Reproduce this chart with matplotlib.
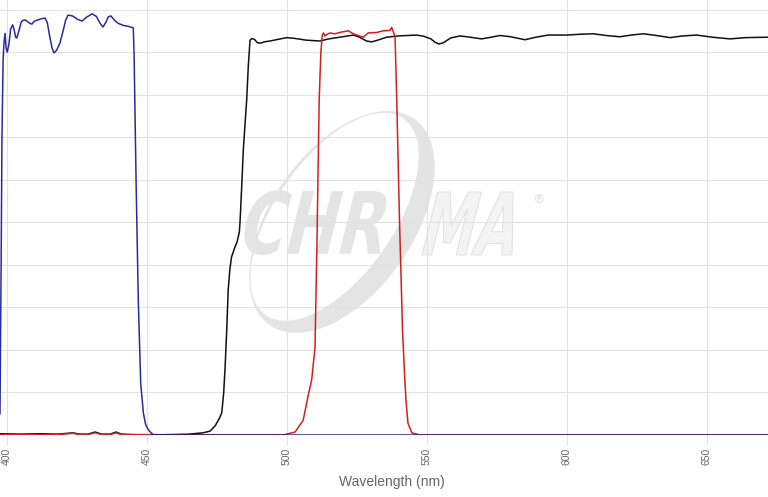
import matplotlib
matplotlib.use('Agg')
import matplotlib.pyplot as plt
from matplotlib.patches import Ellipse, PathPatch
from matplotlib.textpath import TextPath
from matplotlib.font_manager import FontProperties
from matplotlib.transforms import Affine2D

# blue filter (nm, % transmission)
blue_nm = [397.6, 398.0, 398.3, 398.7, 399.0, 399.4, 399.8, 400.2, 400.8, 401.4, 402.1, 402.6,
           403.2, 403.6, 404.3, 405.2, 405.9, 406.8, 407.6, 408.4, 409.0, 409.8, 410.8, 412.2,
           413.7, 414.5, 415.3, 416.2, 416.9, 417.8, 419.0, 420.3, 421.0, 421.9, 423.5, 425.3,
           426.9, 428.5, 430.5, 432.0, 433.4, 434.4, 435.5, 436.3, 437.2, 438.5, 439.7, 441.5,
           443.0, 444.3, 445.2, 445.5, 446.2, 447.0, 447.85, 448.8, 449.6, 450.6, 452.2, 460.0,
           671.9]
blue_t = [5, 40, 70, 88, 92.2, 94.5, 91, 90.1, 92, 95.5, 96.5, 95.5,
          93.6, 93.4, 95, 97.2, 97.6, 97.6, 97.2, 96.8, 96.7, 97.3, 97.6, 97.9,
          98.1, 97, 94, 91, 89.9, 90.5, 92.2, 95.5, 97.5, 98.8, 98.6, 97.8,
          97.4, 98.3, 99.1, 98.5, 96.8, 96.0, 97.2, 98.4, 98.6, 97.6, 96.9, 96.4,
          96.2, 96.0, 95.8, 89.4, 59.8, 31.5, 12.2, 5.2, 2.5, 1.2, 0.1, 0,
          0]

# black filter
black_nm = [397.6, 405, 412, 418, 423.7, 426, 429, 431.5, 434, 437, 439, 441, 445, 455, 465,
            470, 472.6, 474.5, 476, 476.8, 477.5, 478, 478.6, 479.1, 479.7, 480.3, 481.5, 482.3,
            483.1, 483.4, 483.7, 484.1, 484.5, 485.1, 485.7, 486.3, 486.9, 487.7, 488.6, 489.5,
            490.7, 492, 494, 497, 500, 503, 507, 511.9, 515, 519, 523.8, 526, 528.5, 530.4,
            532.5, 535.7, 540, 546.4, 549, 551.5, 553, 554.4, 556, 558.5, 561.9, 565.5, 569.6,
            573, 576.2, 580, 585.1, 589, 593.4, 600, 605, 609.5, 614, 619, 623, 627.4, 632,
            636.9, 641.5, 646.4, 652, 658.3, 664, 671.9]
black_t = [0.3, 0.2, 0.3, 0.2, 0.5, 0.2, 0.2, 0.7, 0.2, 0.2, 0.7, 0.2, 0.1, 0.05, 0.2,
           0.5, 0.9, 2.2, 4, 5.2, 10, 16, 25, 34.1, 39, 41.9, 44.2, 45.5,
           47.8, 51, 55.3, 61, 67.1, 73, 78.8, 87, 92.9, 93.3, 93.0, 92.3,
           92.2, 92.5, 92.7, 93.1, 93.5, 93.3, 92.9, 92.7, 93.2, 93.6, 94.1, 93.6, 92.7, 92.5,
           92.9, 93.6, 93.9, 94.1, 93.8, 93.2, 92.4, 92.0, 92.3, 93.4, 93.9, 93.6, 93.2,
           93.6, 94.0, 93.7, 93.0, 93.6, 94.1, 94.1, 94.3, 94.4, 94.0, 93.7, 94.1, 94.4, 94.0,
           93.5, 93.9, 94.1, 93.6, 93.2, 93.5, 93.6]

# red filter
red_nm = [397.6, 418, 423.7, 426, 429, 431.5, 434, 437, 439, 441, 445, 470, 498.7, 503.0,
          505.9, 507.7, 508.9, 510.1, 510.8, 511.6, 512.2, 512.7, 513.1, 513.7, 514.5, 515.5,
          517.2, 519.5, 522, 523.8, 525.5, 527.3, 529.1, 532.1, 534.5, 536.9, 537.5, 538.7,
          539.3, 540.3, 541.4, 542.2, 542.6, 543.3, 544.7, 547.6, 671.9]
red_t = [0.1, 0.1, 0.4, 0.1, 0.1, 0.5, 0.1, 0.1, 0.5, 0.1, 0.05, 0, 0, 0.7,
         3.5, 9.4, 12.9, 20.5, 45, 78.8, 90, 94, 94.6, 93.9, 94.3, 94.6,
         94.4, 94.8, 95.1, 94.4, 94, 93.6, 94.6, 94.7, 95.1, 95.2, 95.9, 93.7,
         78.8, 50, 24, 12.9, 8.2, 2.8, 0.5, 0, 0]

x_ticks = [400, 450, 500, 550, 600, 650]

W, H = 768, 497
fig = plt.figure(figsize=(W / 100, H / 100), dpi=100)
ax = fig.add_axes([0, 62 / H, 1, 1 - 62 / H])
ax.set_xlim(397.6, 671.9)
ax.set_ylim(0, 102.35)

grid_c = '#e2e2e2'
ax.set_xticks(x_ticks)
ax.set_yticks(range(10, 101, 10))
ax.grid(True, color=grid_c, linewidth=0.8)
ax.tick_params(axis='x', length=7, width=0.8, color=grid_c, labelsize=7.5,
               labelcolor='#666666', labelrotation=90, pad=2)
ax.tick_params(axis='y', length=0, labelleft=False)
for lab in ax.get_xticklabels():
    lab.set_family('Liberation Sans')
for s in ax.spines.values():
    s.set_visible(False)

# watermark, in image pixels (y up)
px = Affine2D().scale(1 / W, 1 / H) + fig.transFigure
wm = '#e4e4e4'
ax.add_patch(Ellipse((342, H - 222), 252, 142, angle=55, facecolor=wm, edgecolor='none',
                     transform=px, clip_on=False, zorder=1))
ax.add_patch(Ellipse((342 - 7.4, H - 222 + 5.2), 240, 118, angle=55, facecolor='white',
                     edgecolor='none', transform=px, clip_on=False, zorder=1.05))

fp = FontProperties(family='DejaVu Sans', weight='bold')

def logo_text(s, x0, x1, base, top, face, edge):
    tp = TextPath((0, 0), s, size=1, prop=fp)
    ext = tp.get_extents()
    sx = (x1 - x0) / ext.width
    sy = (base - top) / ext.height
    tr = Affine2D().translate(-ext.x0, -ext.y0).scale(sx, sy).skew_deg(14, 0) \
        .translate(x0 - 8, H - base) + px
    ax.add_patch(PathPatch(tp, facecolor=face, edgecolor=edge, linewidth=0.6,
                           transform=tr, clip_on=False, zorder=1.1))

logo_text('CHR', 246, 388, 255, 190, wm, 'none')
logo_text('MA', 430, 520, 255, 192, '#f3f3f3', '#dcdcdc')
ax.text(538, H - 200, '\u00ae', transform=px, fontsize=9, color='#dddddd',
        ha='center', va='center', zorder=1.1)

ax.plot(black_nm, black_t, color='#111111', linewidth=1.1, zorder=2)
ax.plot(red_nm, red_t, color='#d21f1f', linewidth=1.1, zorder=2.1)
ax.plot(blue_nm, blue_t, color='#14148e', linewidth=1.1, alpha=0.9, zorder=2.2)

fig.text(392 / W, 1 - 482 / H, 'Wavelength (nm)', ha='center', va='center',
         fontsize=10, color='#666666', family='Liberation Sans')

fig.savefig('out.png', dpi=100)
